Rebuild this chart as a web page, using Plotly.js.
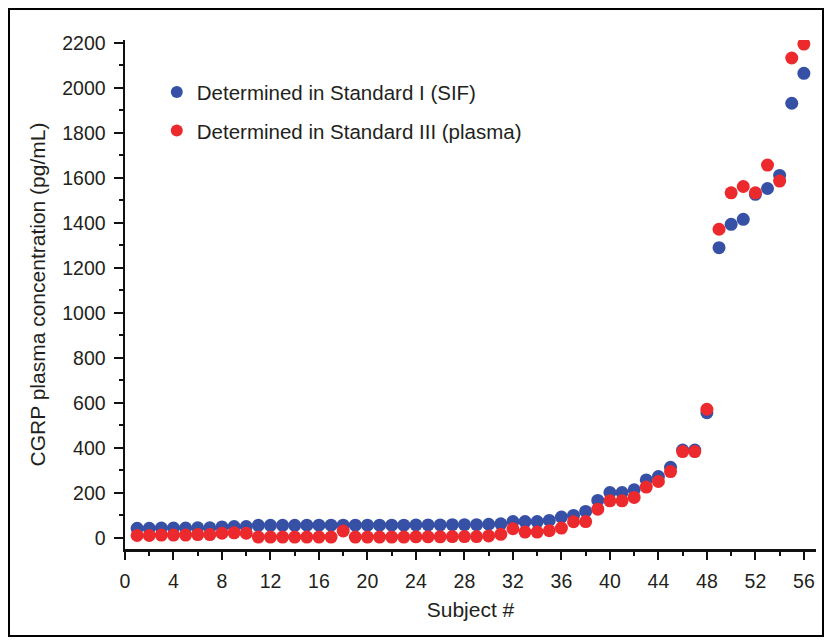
<!DOCTYPE html>
<html>
<head>
<meta charset="utf-8">
<script src="https://cdn.plot.ly/plotly-3.0.1.min.js"></script>
<style>
html,body{margin:0;padding:0;background:#fff;}
#chart{width:826px;height:640px;}
</style>
</head>
<body>
<div id="chart"></div>
<script>
const subjects = Array.from({length: 56}, (_, i) => i + 1);

const sifValues = [42,42,43,43,43,44,44,48,50,50,
  55,55,55,55,56,56,56,56,56,56,
  56,56,56,57,57,57,58,58,58,60,
  62,72,72,72,77,92,99,117,166,201,
  201,213,257,272,313,390,390,556,1289,1393,
  1415,1526,1552,1610,1931,2064];

const plasmaValues = [10,10,12,12,12,14,14,20,22,20,
  3,3,3,3,3,3,3,30,3,3,
  3,3,3,4,4,4,5,5,5,8,
  15,40,25,25,31,43,71,72,127,164,
  164,179,225,250,294,383,383,571,1371,1533,
  1561,1533,1656,1585,2132,2194];

const seriesNames = ['Determined in Standard I (SIF)', 'Determined in Standard III (plasma)'];
const xTickVals = [0,4,8,12,16,20,24,28,32,36,40,44,48,52,56];
const yTickVals = [0,200,400,600,800,1000,1200,1400,1600,1800,2000,2200];

const fontFam = 'Liberation Sans, Arial, Helvetica, sans-serif';
const textColor = '#231f20';

const traces = [
  {x: subjects, y: sifValues, name: seriesNames[0], type: 'scatter', mode: 'markers',
   legendgroup: 'a',
   marker: {color: '#3650a6', size: 13}},
  {x: subjects, y: plasmaValues, name: seriesNames[1], type: 'scatter', mode: 'markers',
   legendgroup: 'b',
   marker: {color: '#ec2a2e', size: 13}}
];

const layout = {
  width: 826, height: 640,
  margin: {l: 125, r: 10, t: 40, b: 91},
  paper_bgcolor: '#fff', plot_bgcolor: '#fff',
  font: {family: fontFam, size: 16, color: textColor},
  showlegend: true,
  legend: {x: 0.046, y: 0.937, xanchor: 'left', yanchor: 'top',
    bgcolor: 'rgba(0,0,0,0)', font: {size: 20.5, color: textColor},
    itemsizing: 'constant',
    tracegroupgap: 9, traceorder: 'grouped'},
  xaxis: {
    range: [0, 57], showgrid: false, zeroline: false,
    showline: true, linecolor: '#111', linewidth: 2.5,
    tickmode: 'array', tickvals: xTickVals, ticktext: xTickVals.map(String),
    ticks: 'outside', ticklen: 8, tickwidth: 2, tickcolor: '#111',
    ticklabelstandoff: 5,
    minor: {dtick: 2, tick0: 0, ticks: 'outside', ticklen: 4, tickwidth: 2, tickcolor: '#111', showgrid: false},
    title: {text: 'Subject #', font: {size: 21, color: textColor}, standoff: 12},
    tickfont: {size: 19.5, color: textColor}
  },
  yaxis: {
    range: [-50, 2212], showgrid: false, zeroline: false,
    showline: true, linecolor: '#111', linewidth: 2.5,
    tickmode: 'array', tickvals: yTickVals, ticktext: yTickVals.map(String),
    ticks: 'outside', ticklen: 9, tickwidth: 2, tickcolor: '#111',
    ticklabelstandoff: 4,
    minor: {dtick: 100, tick0: 0, ticks: 'outside', ticklen: 4, tickwidth: 2, tickcolor: '#111', showgrid: false},
    title: {text: 'CGRP plasma concentration (pg/mL)', font: {size: 21, color: textColor}, standoff: 11},
    tickfont: {size: 19.5, color: textColor}
  },
  shapes: [
    {type: 'rect', xref: 'paper', yref: 'paper',
     x0: (9 - 125) / 691, x1: (823 - 125) / 691,
     y0: (549 - 636) / 509, y1: (549 - 9) / 509,
     line: {color: '#000', width: 2}, fillcolor: 'rgba(0,0,0,0)', layer: 'below'}
  ]
};

Plotly.newPlot('chart', traces, layout, {displayModeBar: false, staticPlot: true});
</script>
</body>
</html>
